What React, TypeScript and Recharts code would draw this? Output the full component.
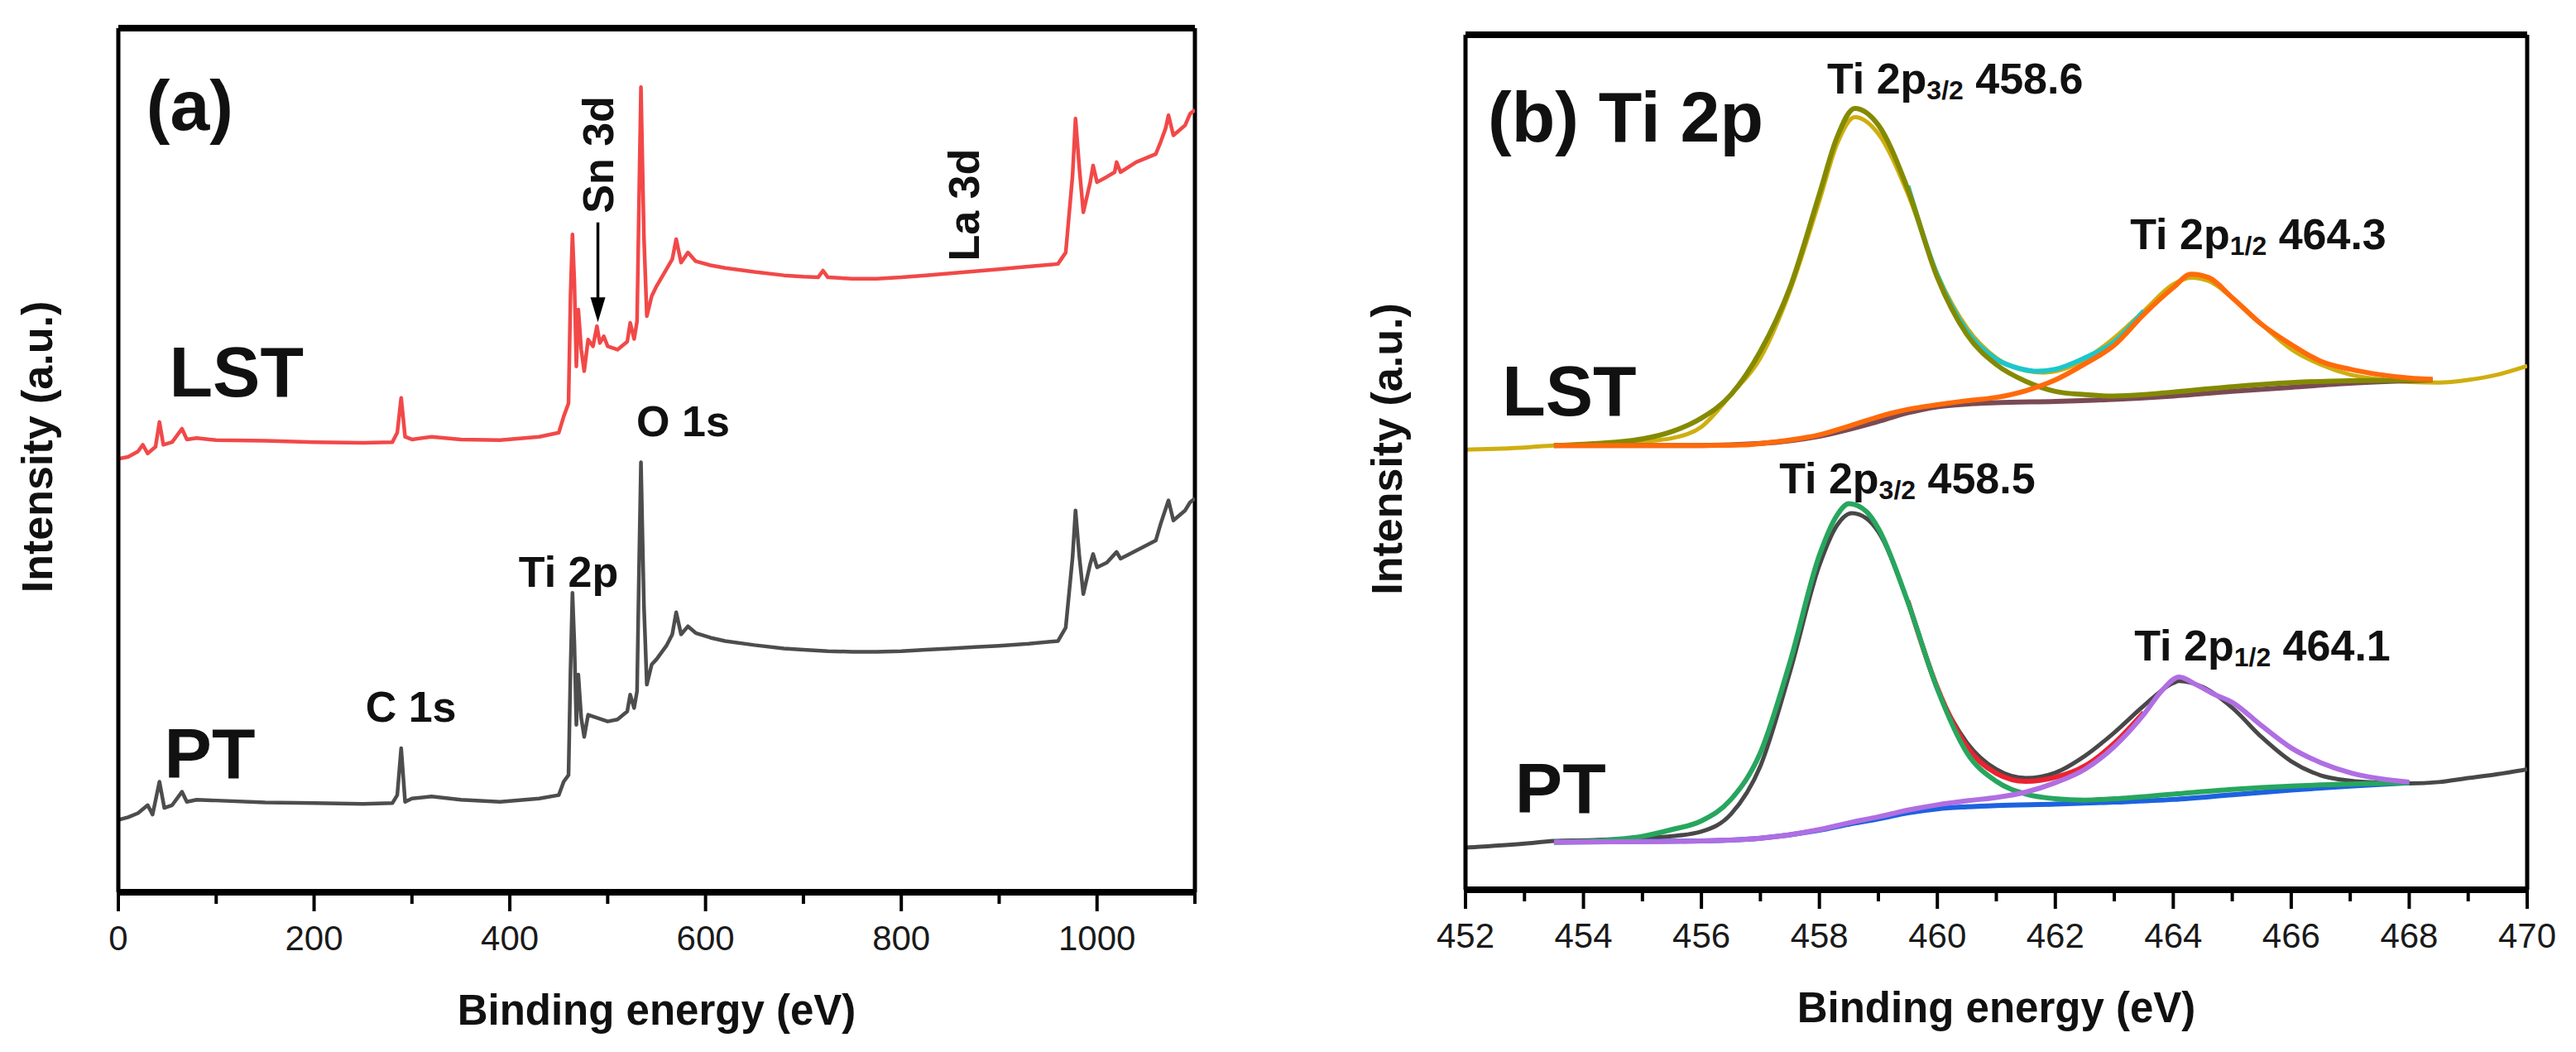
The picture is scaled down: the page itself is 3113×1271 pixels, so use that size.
import React from "react";
import { LineChart, Line, XAxis, YAxis, ReferenceLine, ReferenceDot } from "recharts";

const FONT = '"Liberation Sans", Arial, Helvetica, sans-serif';

// (a) survey spectra: [binding energy (eV), intensity (a.u.)]
const lstSurvey = [
  [0, 647], [10, 650], [20, 658], [25, 668], [30, 655], [38, 665], [42, 702], [46, 668], [55, 672],
  [65, 692], [70, 676], [80, 678], [100, 675], [150, 674], [200, 672], [250, 671], [280, 672],
  [285, 686], [289, 738], [293, 680], [300, 676], [320, 680], [350, 676], [390, 675], [430, 680],
  [450, 686], [455, 710], [460, 730], [462, 890], [464, 982], [466, 910], [468, 785], [470, 870],
  [473, 810], [476, 778], [480, 825], [485, 815], [489, 845], [492, 820], [496, 830], [500, 815],
  [510, 810], [520, 822], [523, 850], [527, 826], [530, 852], [532, 1030], [534, 1202], [537, 980],
  [540, 860], [545, 890], [550, 905], [560, 930], [566, 945], [570, 975], [575, 940], [582, 955],
  [590, 942], [605, 936], [620, 932], [650, 926], [680, 921], [700, 919], [715, 918], [720, 928],
  [725, 918], [750, 916], [775, 916], [800, 918], [825, 921], [850, 924], [875, 927], [900, 930],
  [930, 934], [960, 938], [968, 955], [975, 1070], [978, 1155], [982, 1080], [986, 1015], [993, 1060],
  [996, 1085], [1000, 1060], [1010, 1068], [1018, 1075], [1020, 1090], [1024, 1075], [1040, 1090],
  [1060, 1102], [1065, 1120], [1070, 1140], [1073, 1160], [1078, 1130], [1082, 1135], [1090, 1145],
  [1095, 1162], [1100, 1168],
];

const ptSurvey = [
  [0, 108], [10, 112], [20, 118], [30, 130], [35, 116], [42, 165], [47, 126], [55, 130], [65, 150],
  [70, 135], [80, 138], [100, 137], [150, 134], [200, 133], [250, 132], [280, 133], [285, 145],
  [289, 215], [293, 135], [300, 140], [320, 143], [350, 138], [390, 135], [430, 140], [450, 145],
  [455, 165], [460, 175], [462, 330], [464, 447], [466, 370], [468, 250], [470, 325], [473, 260],
  [476, 232], [480, 265], [490, 260], [500, 255], [510, 258], [520, 270], [523, 295], [527, 275],
  [530, 300], [532, 480], [534, 642], [537, 430], [540, 310], [545, 340], [550, 348], [560, 368],
  [566, 385], [570, 418], [575, 385], [582, 397], [590, 387], [605, 380], [620, 375], [650, 369],
  [680, 364], [700, 362], [725, 360], [750, 359], [775, 359], [800, 360], [825, 362], [850, 364],
  [875, 366], [900, 368], [930, 371], [960, 375], [968, 395], [975, 500], [978, 570], [982, 500],
  [986, 445], [993, 490], [996, 505], [1000, 485], [1010, 492], [1020, 508], [1024, 498], [1040, 510],
  [1060, 525], [1065, 550], [1073, 585], [1078, 555], [1082, 560], [1090, 570], [1095, 582], [1100, 588],
];

// (b) Ti 2p core level, LST: raw data, fit envelope, 2p3/2 and 2p1/2 components, Shirley background
const lstRaw = [
  [452, 658], [453, 661], [453.5, 664], [454, 665], [455, 670], [455.5, 675], [456, 692], [456.5, 740],
  [457, 795], [457.5, 895], [458, 1030], [458.3, 1115], [458.6, 1155], [459, 1130], [459.5, 1040],
  [460, 920], [460.5, 840], [461, 795], [461.5, 776], [461.8, 773], [462.1, 777], [462.5, 793],
  [463, 825], [463.5, 865], [464, 905], [464.3, 915], [464.6, 910], [465, 885], [465.5, 845],
  [466, 808], [466.5, 785], [467, 770], [467.5, 763], [468, 759], [468.5, 758], [469, 762],
  [469.5, 770], [470, 783],
];
const lstEnvelope = [
  [459.5, 1052], [460, 918], [460.5, 835], [461, 793], [461.4, 779], [461.7, 775], [462, 778],
  [462.5, 795], [463, 819], [463.5, 865],
];
const lstP32 = [
  [453.5, 664], [454, 666], [455, 674], [455.5, 685], [456, 705], [456.5, 740], [457, 805], [457.5, 900],
  [458, 1040], [458.3, 1125], [458.6, 1168], [459, 1143], [459.5, 1047], [460, 915], [460.5, 830],
  [461, 785], [461.5, 760], [462, 745], [462.5, 740], [463, 738], [463.5, 740], [464, 744], [465, 752],
  [466, 758], [467, 761], [468.4, 762],
];
const lstP12 = [
  [453.5, 664], [455, 664], [456, 664], [456.7, 665], [457.3, 670], [458, 680], [458.5, 693], [459, 707],
  [459.5, 718], [460, 725], [460.5, 731], [461, 736], [461.5, 746], [462, 762], [462.5, 786], [463, 814],
  [463.5, 860], [464, 900], [464.3, 920], [464.6, 915], [465, 885], [465.5, 845], [466, 815],
  [466.5, 790], [467, 778], [467.5, 770], [468, 765], [468.4, 763],
];
const lstBackground = [
  [453.5, 664], [456, 664], [457, 667], [458, 678], [459, 700], [459.5, 713], [460, 722], [460.5, 726],
  [461, 728], [462, 730], [463, 733], [464, 738], [465, 745], [466, 751], [467, 757], [468.4, 762],
];

// (b) Ti 2p core level, PT
const ptRaw = [
  [452, 63], [453, 69], [453.5, 73], [454, 74], [455, 77], [455.5, 80], [456, 87], [456.5, 113],
  [457, 185], [457.5, 325], [458, 485], [458.3, 545], [458.55, 563], [458.8, 555], [459, 535],
  [459.5, 430], [460, 300], [460.5, 220], [461, 180], [461.5, 167], [462, 175], [462.5, 200],
  [463, 235], [463.5, 275], [464, 309], [464.1, 312], [464.5, 303], [465, 272], [465.5, 228],
  [466, 192], [466.5, 171], [467, 163], [467.5, 160], [468, 159], [468.5, 161], [469, 167],
  [469.5, 173], [470, 180],
];
const ptEnvelope = [
  [459.5, 432], [460, 302], [460.5, 214], [461, 174], [461.5, 162], [462, 168], [462.5, 185],
  [463, 219], [463.5, 265],
];
const ptP32 = [
  [453.5, 71], [454.5, 75], [455, 80], [455.5, 90], [456, 103], [456.5, 135], [457, 205], [457.5, 340],
  [458, 500], [458.3, 560], [458.5, 577], [458.8, 565], [459, 540], [459.5, 430], [460, 300],
  [460.5, 205], [461, 162], [461.5, 143], [462, 136], [462.5, 134], [463, 136], [464, 143], [465, 150],
  [466, 155], [467, 158], [468, 160],
];
const ptP12 = [
  [453.5, 71], [455, 72], [456, 73], [457, 77], [458, 90], [458.5, 100], [459, 109], [459.5, 119],
  [460, 127], [460.5, 133], [461, 138], [461.5, 146], [462, 160], [462.5, 180], [463, 214], [463.5, 262],
  [463.8, 297], [464.1, 318], [464.4, 306], [464.7, 292], [465, 280], [465.5, 245], [466, 212],
  [466.5, 190], [467, 175], [467.5, 166], [468, 161],
];
const ptBackground = [
  [453.5, 71], [456, 73], [457, 77], [458, 89], [458.5, 98], [459, 106], [459.5, 115], [460, 121],
  [460.5, 124], [461, 126], [462, 128], [463, 131], [464, 135], [465, 142], [466, 149], [467, 155],
  [468, 160],
];

const surveyTicks = [0, 100, 200, 300, 400, 500, 600, 700, 800, 900, 1000, 1100];
const surveyLabels = [0, 200, 400, 600, 800, 1000];
const ti2pTicks = [452, 453, 454, 455, 456, 457, 458, 459, 460, 461, 462, 463, 464, 465, 466, 467, 468, 469, 470];
const ti2pLabels = [452, 454, 456, 458, 460, 462, 464, 466, 468, 470];

const toRows = (pairs: number[][]) => pairs.map(([x, y]) => ({ x, y }));

// bottom axis: long labelled ticks, short unlabelled ones, all pointing out
const axisTick = (labelled: number[]) => (props: any) => {
  const { x, y, payload } = props;
  const major = labelled.includes(payload.value);
  return (
    <g>
      <line x1={x} x2={x} y1={y} y2={y + (major ? 23 : 14)} stroke="#000" strokeWidth={4} />
      {major && (
        <text
          x={x}
          y={y + 55}
          textAnchor="middle"
          dominantBaseline="central"
          fontSize={42}
          fontFamily={FONT}
          fill="#1a1a1a"
        >
          {payload.value}
        </text>
      )}
    </g>
  );
};

const xTitle = (props: any) => {
  const vb = props.viewBox;
  return (
    <text
      x={vb.x + vb.width / 2}
      y={vb.y + 142}
      textAnchor="middle"
      dominantBaseline="central"
      fontSize={51}
      fontWeight={700}
      fontFamily={FONT}
      fill="#111"
    >
      Binding energy (eV)
    </text>
  );
};

const yTitle = (dx: number) => (props: any) => {
  const vb = props.viewBox;
  const cx = vb.x + dx;
  const cy = vb.y + vb.height / 2 - 16;
  return (
    <text
      x={cx}
      y={cy}
      transform={`rotate(-90 ${cx} ${cy})`}
      textAnchor="middle"
      dominantBaseline="central"
      fontSize={52}
      fontWeight={700}
      fontFamily={FONT}
      fill="#111"
    >
      Intensity (a.u.)
    </text>
  );
};

// text anchored at a data point
const note =
  (content: React.ReactNode, size: number, anchor: "start" | "middle" = "middle", rotate = false) =>
  (p: any) => (
    <text
      x={p.cx}
      y={p.cy}
      transform={rotate ? `rotate(-90 ${p.cx} ${p.cy})` : undefined}
      textAnchor={anchor}
      dominantBaseline="central"
      fontSize={size}
      fontWeight={700}
      fontFamily={FONT}
      fill="#111"
    >
      {content}
    </text>
  );

const peakNote = (sub: string, value: string) =>
  note(
    <>
      <tspan>Ti 2p</tspan>
      <tspan fontSize={32} dy={14}>
        {sub}
      </tspan>
      <tspan dy={-14}>{"\u00a0" + value}</tspan>
    </>,
    52,
    "start"
  );

const arrowShape = (p: any) => {
  const top = Math.min(p.y1, p.y2);
  const tip = Math.max(p.y1, p.y2);
  const x = p.x1;
  return (
    <g>
      <line x1={x} x2={x} y1={top} y2={tip - 26} stroke="#000" strokeWidth={3.5} />
      <polygon points={`${x - 9},${tip - 30} ${x + 9},${tip - 30} ${x},${tip}`} fill="#000" />
    </g>
  );
};

const SurveyPanel = () => (
  <LineChart width={1560} height={1271} margin={{ top: 34, right: 116, bottom: 73, left: 0 }}>
    <XAxis
      type="number"
      dataKey="x"
      domain={[0, 1100]}
      ticks={surveyTicks}
      interval={0}
      tickLine={false}
      tickSize={0}
      tickMargin={0}
      tick={axisTick(surveyLabels)}
      axisLine={{ stroke: "#000", strokeWidth: 8 }}
      height={120}
      allowDataOverflow
      label={xTitle}
    />
    <YAxis
      type="number"
      domain={[0, 1290]}
      tick={false}
      tickLine={false}
      axisLine={{ stroke: "#000", strokeWidth: 5 }}
      width={143}
      allowDataOverflow
      label={yTitle(45)}
    />
    <ReferenceLine y={1290} stroke="#000" strokeWidth={8} />
    <ReferenceLine x={1100} stroke="#000" strokeWidth={5} />

    <Line data={toRows(lstSurvey)} dataKey="y" type="linear" stroke="#f24848" strokeWidth={4.5} strokeLinejoin="round" dot={false} isAnimationActive={false} />
    <Line data={toRows(ptSurvey)} dataKey="y" type="linear" stroke="#4d4d4d" strokeWidth={4.5} strokeLinejoin="round" dot={false} isAnimationActive={false} />

    <ReferenceDot x={73} y={1175} r={0} shape={note("(a)", 86)} />
    <ReferenceDot x={52} y={777} r={0} shape={note("LST", 86, "start")} />
    <ReferenceDot x={47} y={208} r={0} shape={note("PT", 86, "start")} />
    <ReferenceDot x={490} y={1101} r={0} shape={note("Sn 3d", 52, "middle", true)} />
    <ReferenceLine segment={[{ x: 490, y: 1000 }, { x: 490, y: 851 }]} shape={arrowShape} />
    <ReferenceDot x={864} y={1026} r={0} shape={note("La 3d", 52, "middle", true)} />
    <ReferenceDot x={577} y={703} r={0} shape={note("O 1s", 52)} />
    <ReferenceDot x={460} y={478} r={0} shape={note("Ti 2p", 52)} />
    <ReferenceDot x={299} y={277} r={0} shape={note("C 1s", 52)} />
  </LineChart>
);

const fitLine = (rows: number[][], color: string, width = 6) => (
  <Line
    data={toRows(rows)}
    dataKey="y"
    type="monotone"
    stroke={color}
    strokeWidth={width}
    dot={false}
    isAnimationActive={false}
  />
);

const Ti2pPanel = () => (
  <LineChart width={1553} height={1271} margin={{ top: 42, right: 59, bottom: 76, left: 0 }}>
    <XAxis
      type="number"
      dataKey="x"
      domain={[452, 470]}
      ticks={ti2pTicks}
      interval={0}
      tickLine={false}
      tickSize={0}
      tickMargin={0}
      tick={axisTick(ti2pLabels)}
      axisLine={{ stroke: "#000", strokeWidth: 8 }}
      height={120}
      allowDataOverflow
      label={xTitle}
    />
    <YAxis
      type="number"
      domain={[0, 1278]}
      tick={false}
      tickLine={false}
      axisLine={{ stroke: "#000", strokeWidth: 5 }}
      width={211}
      allowDataOverflow
      label={yTitle(116)}
    />
    <ReferenceLine y={1278} stroke="#000" strokeWidth={8} />
    <ReferenceLine x={470} stroke="#000" strokeWidth={5} />

    {fitLine(lstRaw, "#cfae10", 5)}
    {fitLine(lstEnvelope, "#1cc6cc")}
    {fitLine(lstBackground, "#7a4a55")}
    {fitLine(lstP32, "#848a00")}
    {fitLine(lstP12, "#ff6a0a")}

    {fitLine(ptRaw, "#484848", 5)}
    {fitLine(ptEnvelope, "#ec2230")}
    {fitLine(ptBackground, "#1d62e0")}
    {fitLine(ptP32, "#27a65e")}
    {fitLine(ptP12, "#b06ee2")}

    <ReferenceDot x={452.38} y={1155} r={0} shape={note("(b) Ti 2p", 86, "start")} />
    <ReferenceDot x={452.62} y={746} r={0} shape={note("LST", 86, "start")} />
    <ReferenceDot x={452.84} y={152} r={0} shape={note("PT", 86, "start")} />
    <ReferenceDot x={458.13} y={1212} r={0} shape={peakNote("3/2", "458.6")} />
    <ReferenceDot x={463.27} y={980} r={0} shape={peakNote("1/2", "464.3")} />
    <ReferenceDot x={457.32} y={615} r={0} shape={peakNote("3/2", "458.5")} />
    <ReferenceDot x={463.34} y={365} r={0} shape={peakNote("1/2", "464.1")} />
  </LineChart>
);

export default function App() {
  return (
    <div
      style={{
        position: "absolute",
        left: 0,
        top: 0,
        width: 3113,
        height: 1271,
        background: "#fff",
        fontFamily: FONT,
      }}
    >
      <div style={{ position: "absolute", left: 0, top: 0 }}>
        <SurveyPanel />
      </div>
      <div style={{ position: "absolute", left: 1560, top: 0 }}>
        <Ti2pPanel />
      </div>
    </div>
  );
}
